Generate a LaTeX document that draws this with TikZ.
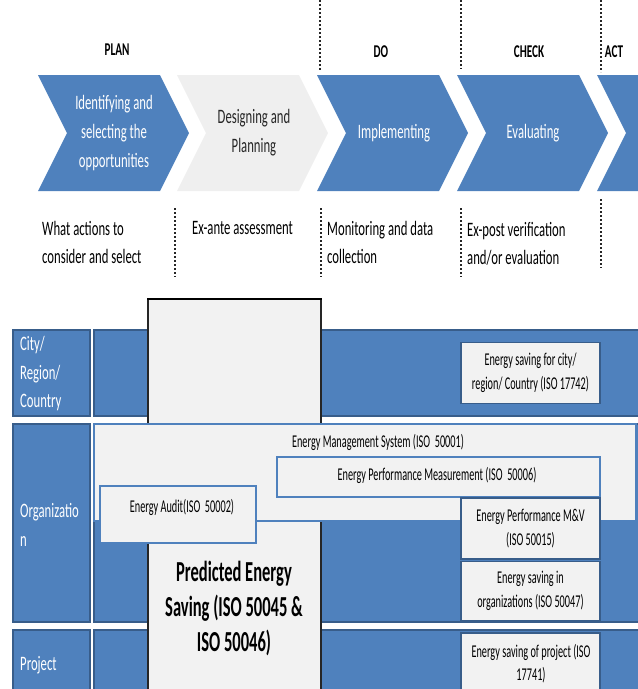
\documentclass[tikz,border=0pt]{standalone}
\usepackage{fontspec}
\setmainfont[FakeStretch=0.62]{Carlito}
\newfontfamily\boxfont[FakeStretch=0.57]{Carlito}
\definecolor{officeblue}{HTML}{4F81BD}
\definecolor{edgeblue}{HTML}{385D8A}
\definecolor{panel}{HTML}{F2F2F2}
\definecolor{chevgray}{HTML}{EFEFEF}
\tikzset{
  phase/.style={font=\fontsize{18}{20}\selectfont\bfseries, inner sep=0},
  chevtext/.style={font=\fontsize{20.5}{29}\selectfont, align=center, inner sep=0},
  note/.style={font=\fontsize{20.5}{28}\selectfont, align=left, anchor=west, inner sep=0},
  divider/.style={line width=1.8pt, dash pattern=on 1.8pt off 2.2pt, black!85},
  band/.style={fill=officeblue, draw=edgeblue, line width=1.3pt},
  rowlabel/.style={font=\fontsize{20.5}{28.5}\selectfont, text=white, align=left, anchor=west, inner sep=0},
  stdbox/.style={fill=panel, draw=edgeblue, line width=1.3pt, inner sep=0,
    font=\boxfont\fontsize{18}{24}\selectfont, align=center},
  lightbox/.style={fill=panel, draw=officeblue, line width=1.3pt, inner sep=0},
  boxtext/.style={font=\boxfont\fontsize{18}{23}\selectfont, align=center, inner sep=0},
}
\begin{document}
\begin{tikzpicture}[x=1pt,y=-1pt]
\useasboundingbox (0,0) rectangle (638,689);
\clip (0,0) rectangle (638,689);

% ---- process chevrons ----
\foreach \L/\c in {38/officeblue,177/chevgray,317/officeblue,457/officeblue,597/officeblue}
  \fill[\c] (\L,75) -- ++(122,0) -- ++(29,58) -- ++(-29,58) -- ++(-122,0) -- ++(29,-58) -- cycle;

\node[chevtext, text=white] (identify) at (114,133) {Identifying and\\selecting the\\opportunities};
\node[chevtext, text=black!85] (design) at (254,133) {Designing and\\Planning};
\node[chevtext, text=white] (implement) at (394,133) {Implementing};
\node[chevtext, text=white] (evaluate) at (533,133) {Evaluating};

% ---- phase headings ----
\node[phase] (plan) at (117,50) {PLAN};
\node[phase] (do) at (381,52) {DO};
\node[phase] (check) at (529,52) {CHECK};
\node[phase] (act) at (614,52) {ACT};

% ---- dotted separators ----
\draw[divider] (320,0) -- (320,70);
\draw[divider] (461,0) -- (461,69);
\draw[divider] (601,0) -- (601,72);
\draw[divider] (175,208) -- (175,277);
\draw[divider] (321,208) -- (321,277);
\draw[divider] (461,208) -- (461,277);
\draw[divider] (601,199) -- (601,268);

% ---- activity notes ----
\node[note] (n1) at (42,242) {What actions to\\consider and select};
\node[note] (n2) at (192,228) {Ex-ante assessment};
\node[note] (n3) at (327,242) {Monitoring and data\\collection};
\node[note] (n4) at (467,244) {Ex-post verification\\and/or evaluation};

% ---- level rows ----
\draw[band] (13,330) rectangle (90,416);
\draw[band] (94,330) rectangle (645,416);
\draw[band] (13,424) rectangle (90,622);
\draw[band] (94,424) rectangle (645,622);
\draw[band] (13,630) rectangle (90,700);
\draw[band] (94,630) rectangle (645,700);

\node[rowlabel] (city) at (20,374) {City/\\Region/\\Country};
\node[rowlabel] (org) at (20,525) {Organizatio\\n};
\node[rowlabel] (proj) at (20,665) {Project};

% ---- predicted savings column ----
\fill[panel] (148,299) rectangle (321,700);
\draw[black!85, line width=1.6pt] (148,700) -- (148,299) -- (321,299) -- (321,700);
\draw[black, line width=2.6pt] (147,299) -- (322,299);

% ---- management system block ----
\node[lightbox, minimum width=542pt, minimum height=97pt] (ems) at (365,472.5) {};
\node[boxtext] (emslabel) at (378,442) {Energy Management System (ISO\ \ 50001)};
\node[lightbox, minimum width=323pt, minimum height=40pt] (epm) at (438.5,477) {};
\node[boxtext] (epmlabel) at (437,475) {Energy Performance Measurement (ISO\ \ 50006)};
\node[lightbox, minimum width=156pt, minimum height=57pt] (audit) at (178,514.5) {};
\node[boxtext] (auditlabel) at (182,507) {Energy Audit(ISO\ \ 50002)};

% ---- standard boxes ----
\node[stdbox, minimum width=139pt, minimum height=61pt] (mv) at (530.5,528.5) {Energy Performance M\&V\\(ISO 50015)};
\node[stdbox, minimum width=139pt, minimum height=59pt] (orgsave) at (530.5,591) {Energy saving in\\organizations (ISO 50047)};
\node[stdbox, minimum width=139pt, minimum height=61pt] (citysave) at (530.5,373) {Energy saving for city/\\region/ Country (ISO 17742)};
\node[stdbox, minimum width=139pt, minimum height=70pt] (projsave) at (530.5,668) {};
\node[boxtext] (projlabel) at (531,664) {Energy saving of project (ISO\\17741)};

% ---- predicted savings label ----
\node[font=\boxfont\fontsize{29}{35}\selectfont\bfseries, align=center, inner sep=0] (predicted) at (234,609) {Predicted Energy\\Saving (ISO 50045 \&\\ISO 50046)};
\end{tikzpicture}
\end{document}
